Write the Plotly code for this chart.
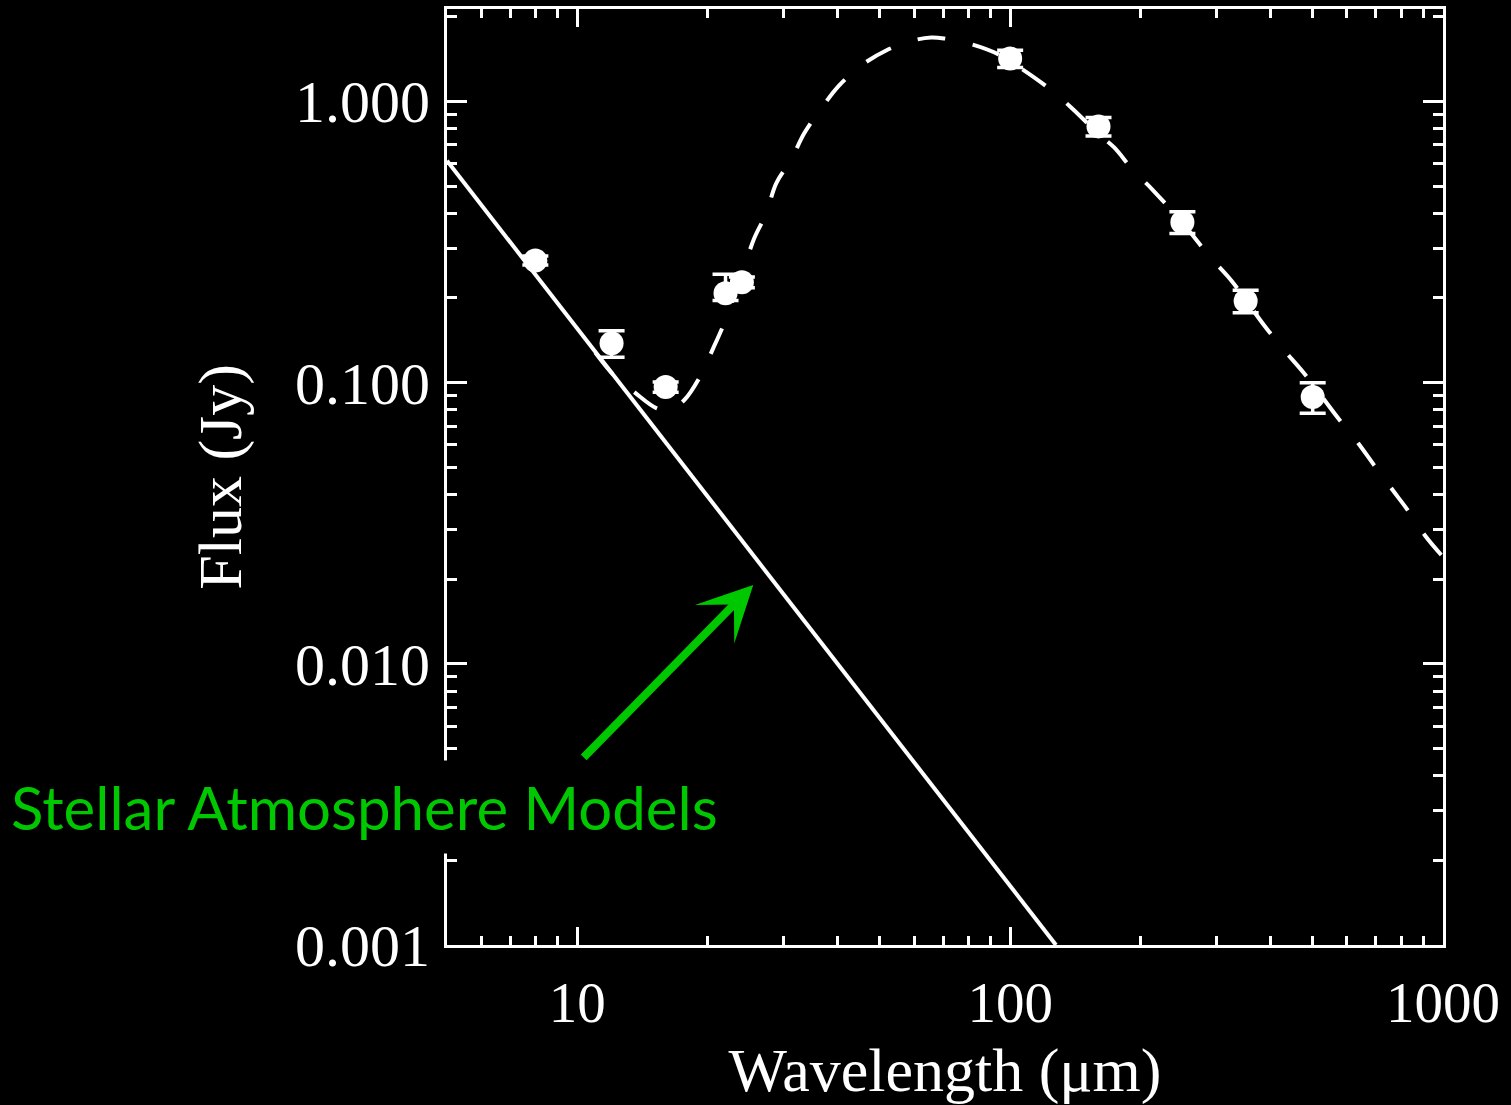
import plotly.graph_objects as go

# Photometry (wavelength in micron, flux density in Jy)
wave_obs = [8, 12, 16, 22, 24, 100, 160, 250, 350, 500]
flux_obs = [0.272, 0.138, 0.0964, 0.208, 0.2275, 1.42, 0.815, 0.372, 0.195, 0.0888]
flux_err_hi = [0.010, 0.015, 0.004, 0.035, 0.010, 0.10, 0.062, 0.033, 0.018, 0.011]
flux_err_lo = [0.010, 0.015, 0.004, 0.012, 0.010, 0.10, 0.062, 0.033, 0.018, 0.011]

# Stellar photosphere (Rayleigh-Jeans tail, straight in log-log)
wave_star = [5.0, 127.6]
flux_star = [0.615, 0.001]

# Star + dust model
wave_model = [11.0, 12.3, 13.54, 15.22, 16.3, 17.67, 19.13, 20.61, 21.85, 24.17,
              25.63, 27.32, 28.81, 31.21, 33.44, 36.6, 40.28, 45.29, 51.7, 59.7,
              65.7, 70.4, 81.7, 94.0, 106.0, 123.0, 138.3, 161.4, 173.9, 192.4,
              213.9, 250.0, 291.2, 323.9, 386.0, 429.4, 477.5, 572.1, 636.4, 692.9,
              758.5, 834.6, 913.3, 1000.0]
flux_model = [0.128, 0.104, 0.0925, 0.0812, 0.0799, 0.0867, 0.1038, 0.1326, 0.1627, 0.2509,
              0.326, 0.400, 0.511, 0.622, 0.770, 0.944, 1.14, 1.342, 1.518, 1.647,
              1.688, 1.674, 1.594, 1.47, 1.31, 1.112, 0.952, 0.757, 0.686, 0.569,
              0.483, 0.37, 0.277, 0.231, 0.160, 0.1305, 0.108, 0.0748, 0.061, 0.0509,
              0.0422, 0.0347, 0.0283, 0.0240]

y_tickvals = [0.001, 0.01, 0.1, 1.0]
y_ticktext = ["0.001", "0.010", "0.100", "1.000"]
x_tickvals = [10, 100, 1000]
x_ticktext = ["10", "100", "1000"]

GREEN = "rgb(0,200,0)"
SERIF = "Liberation Serif, Times New Roman, serif"

fig = go.Figure()

fig.add_trace(go.Scatter(
    x=wave_star, y=flux_star, mode="lines",
    line=dict(color="white", width=4), showlegend=False, hoverinfo="skip"))

fig.add_trace(go.Scatter(
    x=wave_model, y=flux_model, mode="lines",
    line=dict(color="white", width=4, dash="28px,28px", shape="spline", smoothing=1.0),
    showlegend=False, hoverinfo="skip"))

fig.add_trace(go.Scatter(
    x=wave_obs, y=flux_obs, mode="markers",
    marker=dict(color="white", size=24, line=dict(width=0)),
    error_y=dict(type="data", array=flux_err_hi, arrayminus=flux_err_lo,
                 color="white", thickness=3.5, width=13),
    showlegend=False))

axis_common = dict(
    type="log", showline=True, linecolor="white", linewidth=3, mirror="allticks",
    ticks="inside", tickcolor="white", tickwidth=2.5, showgrid=False, zeroline=False,
    automargin=False,
)

fig.update_xaxes(
    **axis_common, range=[0.69897, 3.0], tickvals=x_tickvals, ticktext=x_ticktext,
    ticklen=18, ticklabelstandoff=6,
    tickfont=dict(family=SERIF, size=57, color="white"),
    minor=dict(ticks="inside", ticklen=9, tickcolor="white", tickwidth=2.5, dtick="D1"),
    title=dict(text="Wavelength (\u03bcm)", font=dict(family=SERIF, size=62, color="white"),
               standoff=22),
)
fig.update_yaxes(
    **axis_common, range=[-3.0, 0.3286], tickvals=y_tickvals, ticktext=y_ticktext,
    ticklen=20, ticklabelstandoff=2,
    tickfont=dict(family=SERIF, size=60, color="white"),
    minor=dict(ticks="inside", ticklen=10, tickcolor="white", tickwidth=2.5, dtick="D1"),
    title=dict(text="Flux (Jy)", font=dict(family=SERIF, size=62, color="white"),
               standoff=34),
)

# Arrow pointing at the photosphere line
fig.add_annotation(
    x=1.4065, y=-1.7194, xref="x", yref="y",
    ax=-171, ay=174, axref="pixel", ayref="pixel",
    showarrow=True, arrowhead=3, arrowsize=1.15, arrowwidth=8, arrowcolor=GREEN, text="")

# Label on a black box that breaks the left axis
fig.add_annotation(
    x=-0.0833, y=0.1475, xref="paper", yref="paper", xanchor="center", yanchor="middle",
    text="Stellar Atmosphere Models", showarrow=False,
    font=dict(family="Lato, Carlito, Calibri, sans-serif", size=60, color=GREEN),
    bgcolor="black", borderpad=10)

fig.update_layout(
    width=1511, height=1105,
    margin=dict(l=447, r=68, t=9, b=160),
    paper_bgcolor="black", plot_bgcolor="black",
)

fig.write_html("out.html")
